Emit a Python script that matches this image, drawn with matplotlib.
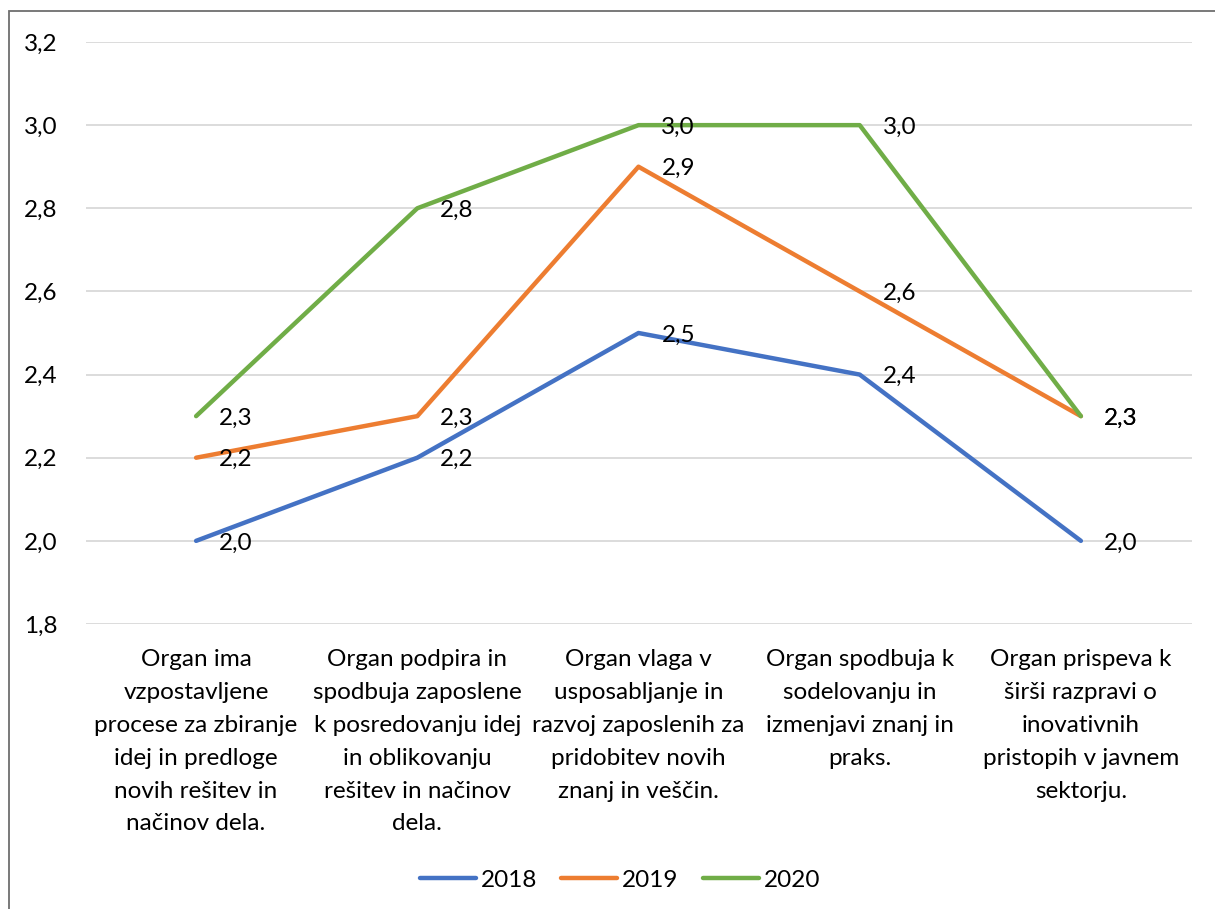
import matplotlib.pyplot as plt
from matplotlib.patches import Rectangle

plt.rcParams['font.family'] = ['Lato', 'DejaVu Sans']

categories = [
    "Organ ima\nvzpostavljene\nprocese za zbiranje\nidej in predloge\nnovih rešitev in\nnačinov dela.",
    "Organ podpira in\nspodbuja zaposlene\nk posredovanju idej\nin oblikovanju\nrešitev in načinov\ndela.",
    "Organ vlaga v\nusposabljanje in\nrazvoj zaposlenih za\npridobitev novih\nznanj in veščin.",
    "Organ spodbuja k\nsodelovanju in\nizmenjavi znanj in\npraks.",
    "Organ prispeva k\nširši razpravi o\ninovativnih\npristopih v javnem\nsektorju.",
]
years = ["2018", "2019", "2020"]
values_2018 = [2.0, 2.2, 2.5, 2.4, 2.0]
values_2019 = [2.2, 2.3, 2.9, 2.6, 2.3]
values_2020 = [2.3, 2.8, 3.0, 3.0, 2.3]
yticks = [1.8, 2.0, 2.2, 2.4, 2.6, 2.8, 3.0, 3.2]

colors = ["#4472C4", "#ED7D31", "#70AD47"]
series = [values_2018, values_2019, values_2020]
fs = 17.5

W, H = 1215, 909
fig = plt.figure(figsize=(W / 100, H / 100), dpi=100)
ax = fig.add_axes([85.5 / W, 1 - 624 / H, 1106 / W, 582 / H])

x = list(range(len(categories)))
for name, vals, c in zip(years, series, colors):
    ax.plot(x, vals, color=c, lw=3.2, solid_capstyle='round',
            solid_joinstyle='round', label=name, zorder=3)
    for xi, v in zip(x, vals):
        ax.annotate(f"{v:.1f}".replace('.', ','), (xi, v),
                    xytext=(16.5, -1.5), textcoords='offset points',
                    ha='left', va='center', fontsize=fs, color='black',
                    zorder=4)

ax.set_xlim(-0.5, len(categories) - 0.5)
ax.set_ylim(1.8, 3.2)
ax.set_yticks(yticks)
ax.set_yticklabels([f"{t:.1f}".replace('.', ',') for t in yticks], fontsize=fs)
ax.set_xticks(x)
ax.set_xticklabels(categories, fontsize=fs, linespacing=1.7)
ax.tick_params(axis='both', length=0)
ax.tick_params(axis='y', pad=20)
ax.tick_params(axis='x', pad=18)
ax.grid(axis='y', color='#D9D9D9', lw=1.3, zorder=0)
ax.set_axisbelow(True)
for s in ax.spines.values():
    s.set_visible(False)

leg = fig.legend(loc='center', bbox_to_anchor=(620 / W, 1 - 880 / H), ncol=3,
                 frameon=False, fontsize=fs, handlelength=2.3,
                 columnspacing=1.0, handletextpad=0.2)
for h in leg.get_lines():
    h.set_linewidth(3.2)
    h.set_solid_capstyle('round')

# outer chart border
fig.patches.append(Rectangle((9 / W, -0.1), 1.2, 1.1 - 11 / H,
                             transform=fig.transFigure, fill=False,
                             edgecolor='#6E6E6E', lw=1.3))

fig.savefig('out.png', dpi=100)
